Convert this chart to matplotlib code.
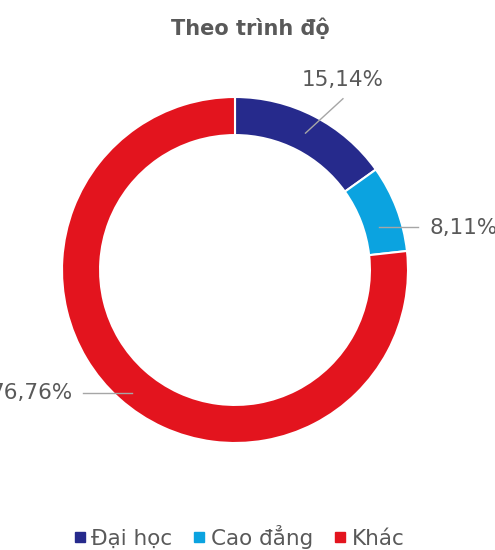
import matplotlib.pyplot as plt
import numpy as np
from matplotlib.lines import Line2D

categories = ["Đại học", "Cao đẳng", "Khác"]
shares = [15.14, 8.11, 76.76]
colors = ["#262a8c", "#0ba3e0", "#e3141e"]

text_gray = "#595959"
line_gray = "#a6a6a6"

fig = plt.figure(figsize=(4.95, 5.5), dpi=100)
ax = fig.add_axes([62 / 495, 107 / 550, 346 / 495, 346 / 550])

wedges, _ = ax.pie(shares, colors=colors, startangle=90, counterclock=False,
                   radius=1.0, wedgeprops=dict(width=0.22, edgecolor="white", linewidth=1.5))
ax.set_xlim(-1, 1)
ax.set_ylim(-1, 1)
ax.set_aspect("equal")
ax.axis("off")

# leader line end points and label anchors (data units, radius = 1)
label_setup = [
    dict(end=(0.624, 0.99), text=(0.624, 1.098), ha="center", va="center"),
    dict(end=(1.06, 0.25), text=(1.127, 0.243), ha="left", va="center"),
    dict(end=(-0.88, -0.71), text=(-0.942, -0.711), ha="right", va="center"),
]

for w, val, cfg in zip(wedges, shares, label_setup):
    mid = np.deg2rad((w.theta1 + w.theta2) / 2)
    r = 0.89
    sx, sy = r * np.cos(mid), r * np.sin(mid)
    ex, ey = cfg["end"]
    if cfg["ha"] != "center":
        sy = ey
    ax.plot([sx, ex], [sy, ey], color=line_gray, lw=1, clip_on=False)
    label = f"{val:.2f}%".replace(".", ",")
    ax.text(cfg["text"][0], cfg["text"][1], label, ha=cfg["ha"], va=cfg["va"],
            fontsize=15.5, color=text_gray, clip_on=False)

fig.text(0.505, 0.948, "Theo trình độ", ha="center", va="center",
         fontsize=15, fontweight="bold", color=text_gray)

handles = [Line2D([], [], marker="s", linestyle="none", markersize=6.5,
                  markerfacecolor=c, markeredgecolor=c) for c in colors]
fig.legend(handles, categories, loc="center", bbox_to_anchor=(0.482, 0.024),
           ncol=3, frameon=False, fontsize=15.5, labelcolor=text_gray,
           handletextpad=0.2, columnspacing=0.9, handlelength=0.7)

fig.savefig("out.png", dpi=100, facecolor="white")
